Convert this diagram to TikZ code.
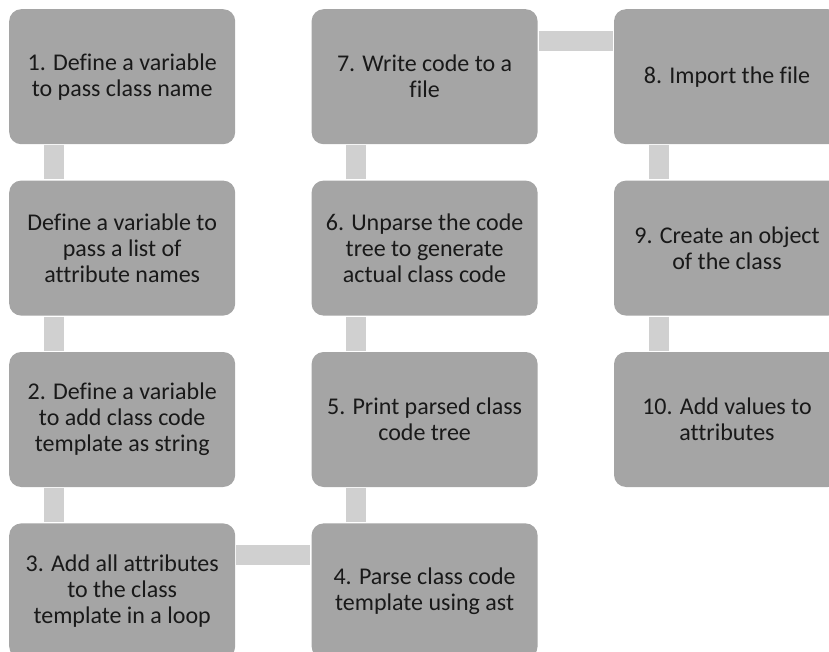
\documentclass[tikz,border=0pt]{standalone}
\usepackage{fontspec}
\setmainfont{Carlito}[Ligatures=NoCommon]
\usetikzlibrary{positioning}
\definecolor{boxgray}{HTML}{A5A5A5}
\definecolor{linkgray}{HTML}{D0D0D0}

\begin{document}
\begin{tikzpicture}[node distance=36pt and 76pt,
    every node/.style={font=\fontsize{24}{26}\selectfont},
    stepbox/.style={fill=boxgray, rounded corners=12pt, align=center, text=black!90,
      minimum width=226pt, minimum height=135pt, inner sep=0pt},
    link/.style={linkgray, line width=20pt}]
    \useasboundingbox (0,0) rectangle (829pt,-652pt);
    \clip (0,0) rectangle (829pt,-652pt);
    \node[stepbox, anchor=north west] (s1) at (9pt,-9pt) {1. Define a variable\\to pass class name};
    \node[stepbox, below=of s1] (s1b) {Define a variable to\\pass a list of\\attribute names};
    \node[stepbox, below=of s1b] (s2) {2. Define a variable\\to add class code\\template as string};
    \node[stepbox, below=of s2] (s3) {3. Add all attributes\\to the class\\template in a loop};
    \node[stepbox, right=of s3] (s4) {4. Parse class code\\template using ast};
    \node[stepbox, above=of s4] (s5) {5. Print parsed class\\code tree};
    \node[stepbox, above=of s5] (s6) {6. Unparse the code\\tree to generate\\actual class code};
    \node[stepbox, above=of s6] (s7) {7. Write code to a\\file};
    \node[stepbox, right=of s7] (s8) {8. Import the file};
    \node[stepbox, below=of s8] (s9) {9. Create an object\\of the class};
    \node[stepbox, below=of s9] (s10) {10. Add values to\\attributes};
    % connectors
    \draw[link] ([xshift=45pt,yshift=-1pt]s1.south west) -- ([xshift=45pt,yshift=1pt]s1b.north west);
    \draw[link] ([xshift=45pt,yshift=-1pt]s1b.south west) -- ([xshift=45pt,yshift=1pt]s2.north west);
    \draw[link] ([xshift=45pt,yshift=-1pt]s2.south west) -- ([xshift=45pt,yshift=1pt]s3.north west);
    \draw[link] ([xshift=1pt,yshift=-32pt]s3.north east) -- ([xshift=-1pt,yshift=-32pt]s4.north west);
    \draw[link] ([xshift=45pt,yshift=1pt]s4.north west) -- ([xshift=45pt,yshift=-1pt]s5.south west);
    \draw[link] ([xshift=45pt,yshift=1pt]s5.north west) -- ([xshift=45pt,yshift=-1pt]s6.south west);
    \draw[link] ([xshift=45pt,yshift=1pt]s6.north west) -- ([xshift=45pt,yshift=-1pt]s7.south west);
    \draw[link] ([xshift=1pt,yshift=-32pt]s7.north east) -- ([xshift=-1pt,yshift=-32pt]s8.north west);
    \draw[link] ([xshift=45pt,yshift=-1pt]s8.south west) -- ([xshift=45pt,yshift=1pt]s9.north west);
    \draw[link] ([xshift=45pt,yshift=-1pt]s9.south west) -- ([xshift=45pt,yshift=1pt]s10.north west);
\end{tikzpicture}
\end{document}
